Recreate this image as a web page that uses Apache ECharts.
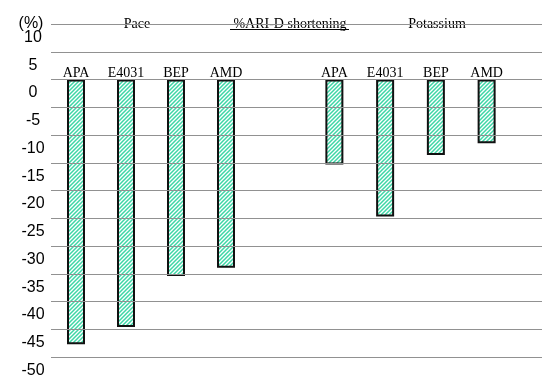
<!DOCTYPE html>
<html>
<head>
<meta charset="utf-8">
<script src="https://cdn.jsdelivr.net/npm/echarts@6/dist/echarts.min.js"></script>
<style>
  html, body { margin: 0; padding: 0; background: #fff; }
  #chart { width: 542px; height: 378px; }
</style>
</head>
<body>
<div id="chart"></div>
<script>
// Drug names shown above each bar
const paceCategories = ['APA', 'E4031', 'BEP', 'AMD'];
const potassiumCategories = ['APA', 'E4031', 'BEP', 'AMD'];

// %ARI-D shortening per drug
const paceValues = [-47.7, -44.6, -35.4, -33.9];
const potassiumValues = [-15.3, -24.7, -13.6, -11.5];

// Value axis range and step
const yMin = -50;
const yMax = 10;
const yStep = 5;
const yUnit = '(%)';

// Headings along the top line
const groupTitles = ['Pace', '%ARI-D shortening', 'Potassium'];

// Diagonal hatch fill for the bars
function hatchPattern() {
  const c = document.createElement('canvas');
  c.width = 4; c.height = 4;
  const ctx = c.getContext('2d');
  ctx.fillStyle = '#ffffff';
  ctx.fillRect(0, 0, 4, 4);
  ctx.strokeStyle = '#3dd6a6';
  ctx.lineWidth = 1.5;
  ctx.beginPath();
  ctx.moveTo(0, 4); ctx.lineTo(4, 0);
  ctx.moveTo(-1, 1); ctx.lineTo(1, -1);
  ctx.moveTo(3, 5); ctx.lineTo(5, 3);
  ctx.stroke();
  return c;
}

const serif = 'Liberation Serif';
const sans = 'Liberation Sans';

const gridBox = (extra) => Object.assign({
  top: 24, bottom: 21, containLabel: false, outerBoundsMode: 'none'
}, extra);

const hiddenY = (gi) => ({
  type: 'value', gridIndex: gi, min: yMin, max: yMax, interval: yStep, show: false
});

// Category axis drawn along the zero line, names sitting just above it
const catAxis = (gi, data) => ({
  type: 'category', gridIndex: gi, data: data, position: 'top',
  offset: -56,
  axisLine: { show: false, onZero: false },
  axisTick: { show: false },
  splitLine: { show: false },
  axisLabel: {
    fontFamily: serif, fontSize: 14, color: '#000', margin: 0, interval: 0
  }
});

const barSeries = (axisIdx, values) => ({
  type: 'bar',
  xAxisIndex: axisIdx, yAxisIndex: axisIdx,
  data: values,
  barWidth: 18,
  z: -1,
  itemStyle: {
    color: { image: hatchPattern(), repeat: 'repeat' },
    borderColor: '#111',
    borderWidth: 2
  },
  silent: true
});

const titleText = (x, text) => ({
  type: 'text', x: x, y: 24, silent: true,
  style: { text: text, font: '14px "' + serif + '"', fill: '#000', align: 'center', verticalAlign: 'middle' }
});

const chart = echarts.init(document.getElementById('chart'), null, { renderer: 'canvas' });

chart.setOption({
  animation: false,
  backgroundColor: '#fff',
  grid: [
    gridBox({ left: 51, right: 0 }),
    gridBox({ left: 51, width: 200 }),
    gridBox({ left: 309, width: 203 })
  ],
  xAxis: [
    { type: 'value', gridIndex: 0, show: false, min: 0, max: 1 },
    catAxis(1, paceCategories),
    catAxis(2, potassiumCategories)
  ],
  yAxis: [
    {
      type: 'value', gridIndex: 0, min: yMin, max: yMax, interval: yStep,
      axisLine: { show: false },
      axisTick: { show: false },
      splitLine: { show: true, lineStyle: { color: '#919191', width: 1 } },
      axisLabel: {
        fontFamily: sans, fontSize: 16, color: '#000',
        align: 'center', verticalAlign: 'top', lineHeight: 27,
        margin: 18,
        showMinLabel: true, showMaxLabel: true, hideOverlap: false
      }
    },
    hiddenY(1),
    hiddenY(2)
  ],
  series: [
    barSeries(1, paceValues),
    barSeries(2, potassiumValues)
  ],
  graphic: [
    {
      type: 'text', x: 31, y: 24, silent: true,
      style: { text: yUnit, font: '16px "' + sans + '"', fill: '#000', align: 'center', verticalAlign: 'middle' }
    },
    titleText(137, groupTitles[0]),
    titleText(290, groupTitles[1]),
    {
      type: 'line', silent: true,
      shape: { x1: 230, y1: 29.5, x2: 349, y2: 29.5 },
      style: { stroke: '#000', lineWidth: 1 }
    },
    titleText(437, groupTitles[2])
  ]
});
</script>
</body>
</html>
